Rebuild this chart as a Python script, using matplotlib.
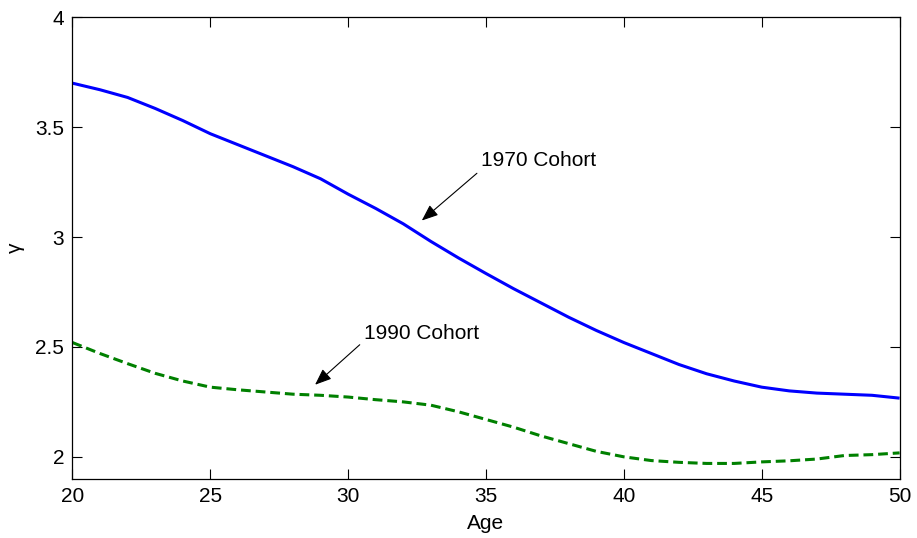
import matplotlib
matplotlib.use("Agg")
import matplotlib.pyplot as plt

plt.rcParams['font.family'] = ['Liberation Sans', 'DejaVu Sans']

ages = list(range(20, 51))
cohort_1970 = [3.70, 3.67, 3.635, 3.585, 3.53, 3.47, 3.42, 3.37, 3.32, 3.265,
               3.195, 3.13, 3.06, 2.98, 2.905, 2.834, 2.765, 2.70, 2.635, 2.575,
               2.52, 2.47, 2.42, 2.378, 2.345, 2.317, 2.30, 2.29, 2.285, 2.28, 2.267]
cohort_1990 = [2.52, 2.47, 2.424, 2.38, 2.345, 2.317, 2.305, 2.295, 2.285, 2.28,
               2.272, 2.26, 2.25, 2.235, 2.205, 2.17, 2.135, 2.095, 2.06, 2.025,
               2.0, 1.983, 1.975, 1.97, 1.97, 1.977, 1.982, 1.99, 2.006, 2.01, 2.018]

fig = plt.figure(figsize=(9.17, 5.38), dpi=100)
ax = fig.add_axes([0.079, 0.110, 0.902, 0.858])

ax.plot(ages, cohort_1970, color='#0000ff', lw=2.2, solid_capstyle='butt')
ax.plot(ages, cohort_1990, color='#008000', lw=2.2, ls=(0, (3.2, 1.6)))

ax.set_xlim(20, 50)
ax.set_ylim(1.9, 4)
ax.set_xticks([20, 25, 30, 35, 40, 45, 50])
ax.set_yticks([2, 2.5, 3, 3.5, 4])
ax.set_yticklabels(['2', '2.5', '3', '3.5', '4'])
ax.tick_params(direction='in', top=True, right=True, length=7, width=0.8,
               labelsize=15, pad=6)
for s in ax.spines.values():
    s.set_linewidth(0.9)

ax.set_xlabel('Age', fontsize=15, labelpad=6)
ax.set_ylabel('γ', fontsize=15)
ax.yaxis.set_label_coords(-0.057, 0.5)

arrow = dict(arrowstyle='-|>,head_length=1.0,head_width=0.4', color='black',
             lw=0.8, shrinkA=0, shrinkB=0)
ax.annotate('', xy=(32.67, 3.075), xytext=(34.67, 3.29), arrowprops=arrow)
ax.text(34.81, 3.349, '1970 Cohort', fontsize=15, ha='left', va='center')
ax.annotate('', xy=(28.8, 2.328), xytext=(30.42, 2.51), arrowprops=arrow)
ax.text(30.57, 2.56, '1990 Cohort', fontsize=15, ha='left', va='center')

fig.savefig('out.png', dpi=100)
